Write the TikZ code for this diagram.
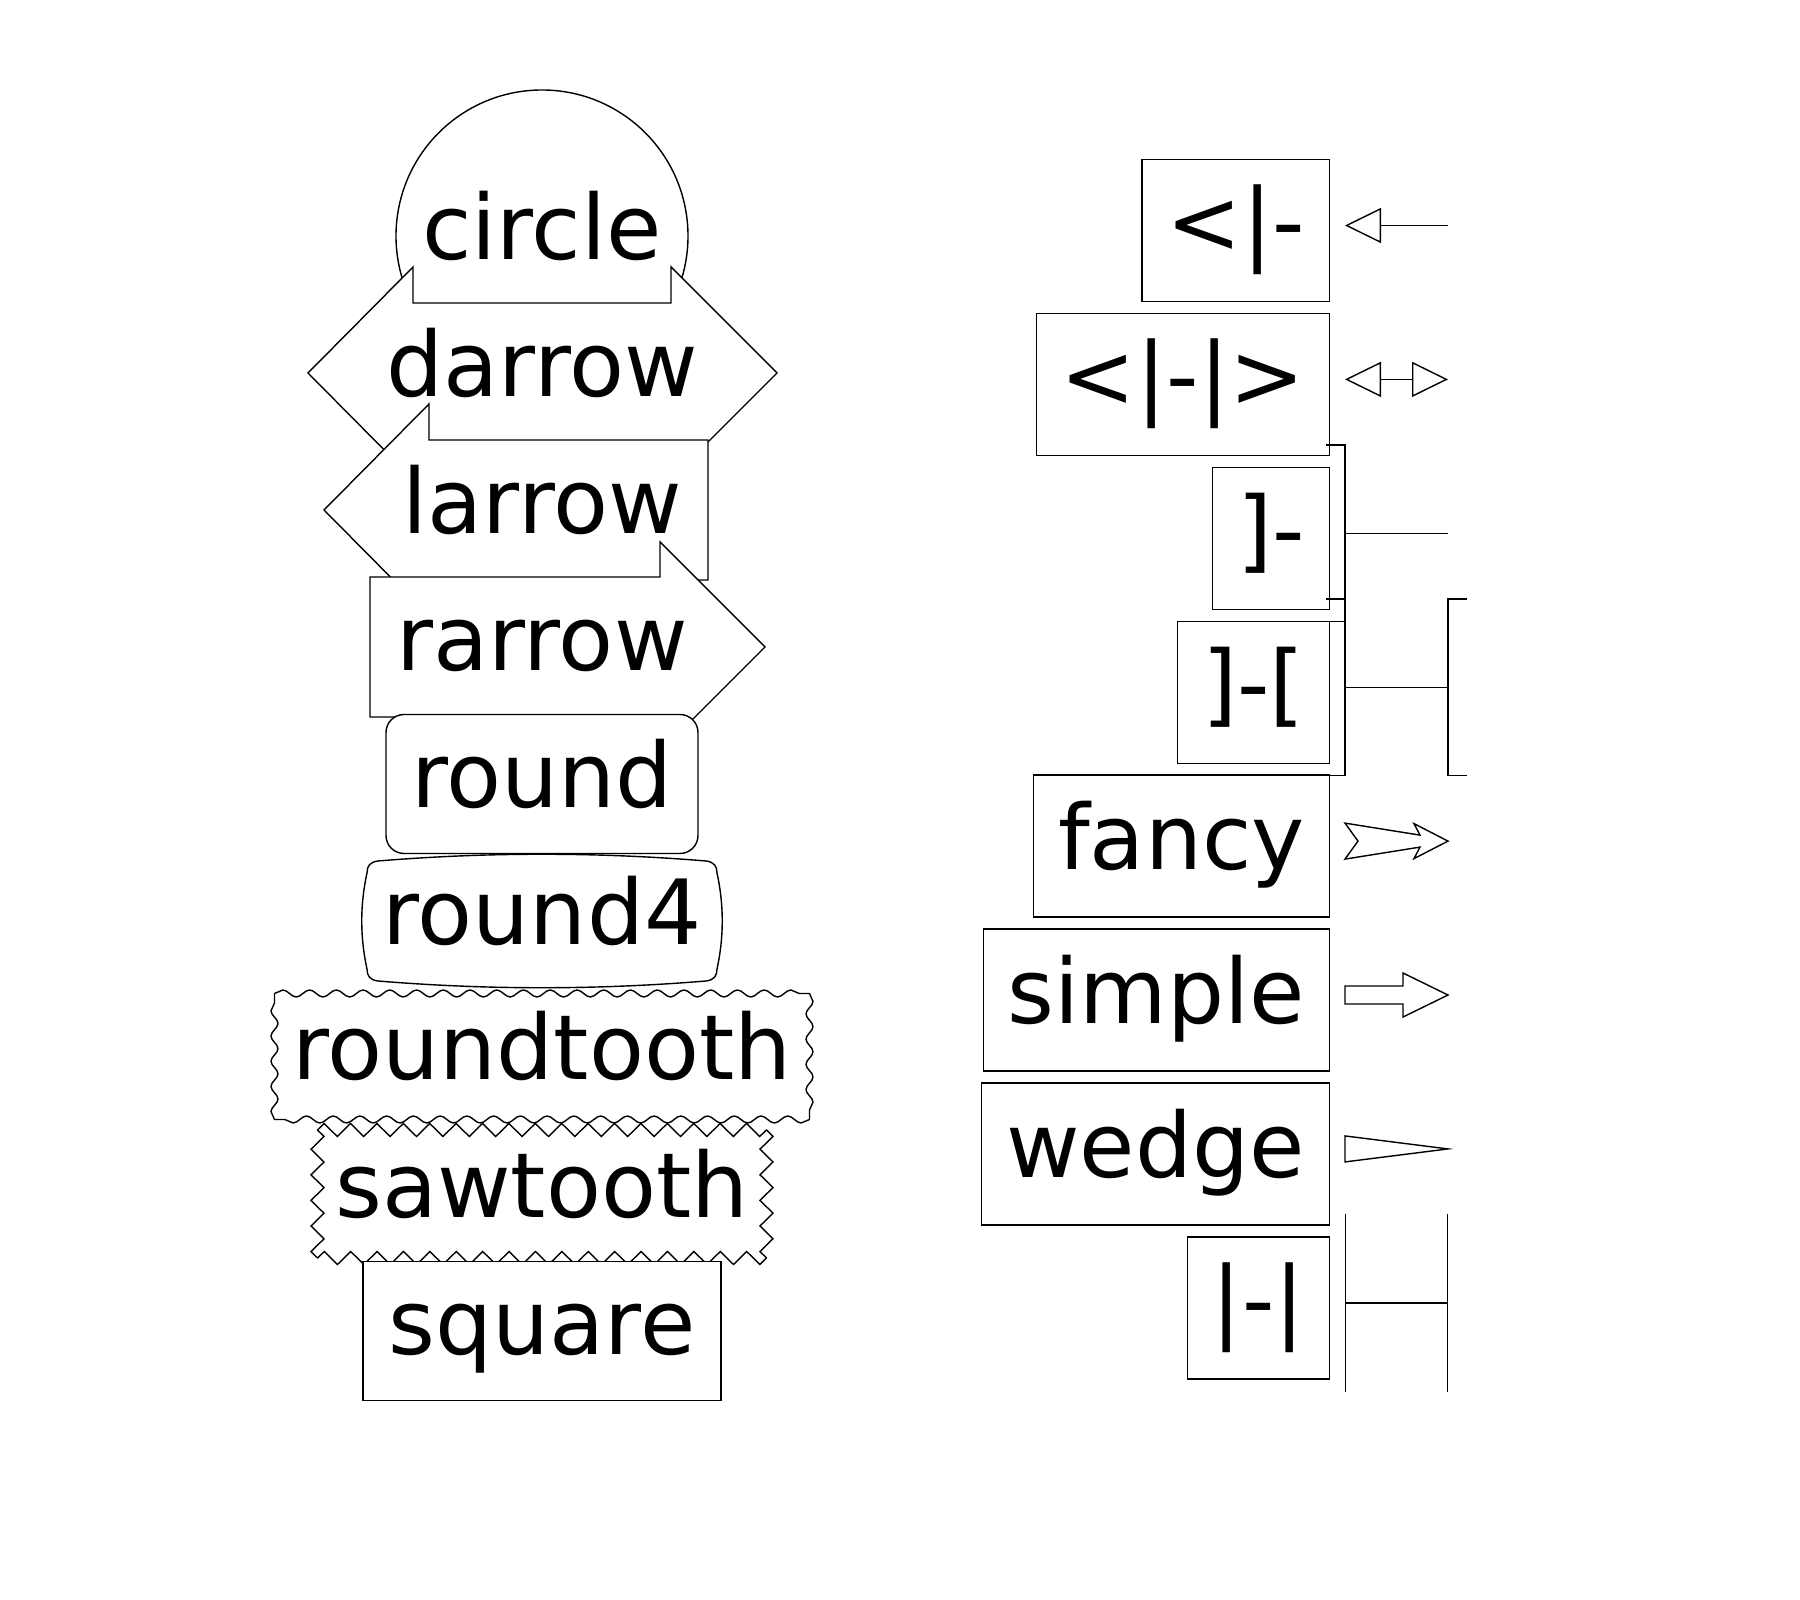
\documentclass[tikz,border=0pt]{standalone}
\usepackage{fontspec}
\setmainfont{DejaVu Sans}
\usetikzlibrary{positioning, arrows.meta, decorations.pathmorphing}

\begin{document}
\begin{tikzpicture}[
    % Define the style for the text
    word/.style={
        font=\fontsize{25.6}{30}\selectfont,
        text height=0.68cm,
        text depth=0.21cm,
        inner sep=0pt
    },
    % Define the style for the outlines on the left
    outline/.style={
        draw=black,
        line width=0.4pt,
        fill=white
    },
    % Wavy and toothed edges
    wavy/.style={decoration={snake, amplitude=0.035cm, segment length=#1}},
    teeth/.style={decoration={zigzag, amplitude=0.065cm, segment length=#1}},
    % Define the style for the boxes on the right
    tipbox/.style={
        rectangle,
        draw=black,
        line width=0.4pt,
        fill=white,
        word,
        inner xsep=0.245cm,
        minimum height=1.42cm
    },
    % Define style for the sample lines
    tipline/.style={
        line width=0.4pt
    }
]

\useasboundingbox (0,0) rectangle (18,-16);

% 1. circle
\node (circ) [outline, circle, word, minimum size=2.92cm] at (5.42,-2.36) {circle};

% 2. darrow
\draw [outline, shift={(5.42,-3.73)}] (-2.34,0) -- (-1.29,1.06) -- (-1.29,0.70) -- (1.29,0.70) -- (1.29,1.06) -- (2.35,0) -- (1.29,-1.06) -- (1.29,-0.70) -- (-1.29,-0.70) -- (-1.29,-1.06) -- cycle;
\node (darr) [word] at (5.42,-3.73) {darrow};

% 3. larrow
\draw [outline, shift={(5.42,-5.10)}] (-2.18,0) -- (-1.13,1.06) -- (-1.13,0.70) -- (1.66,0.70) -- (1.66,-0.70) -- (-1.13,-0.70) -- (-1.13,-1.06) -- cycle;
\node (larr) [word] at (5.42,-5.10) {larrow};

% 4. rarrow
\draw [outline, shift={(5.42,-6.47)}] (-1.72,0.70) -- (1.18,0.70) -- (1.18,1.05) -- (2.23,0) -- (1.18,-1.05) -- (1.18,-0.70) -- (-1.72,-0.70) -- cycle;
\node (rarr) [word] at (5.42,-6.47) {rarrow};

% 5. round
\node (rnd) [outline, word, rounded corners=0.18cm, minimum width=3.12cm, minimum height=1.39cm] at (5.42,-7.84) {round};

% 6. round4
\draw [outline, shift={(5.42,-9.21)}] (-1.64,0.60) .. controls (-0.55,0.69) and (0.55,0.69) .. (1.64,0.60)
    .. controls (1.72,0.59) and (1.75,0.55) .. (1.75,0.48)
    .. controls (1.82,0.16) and (1.82,-0.16) .. (1.75,-0.48)
    .. controls (1.75,-0.55) and (1.72,-0.59) .. (1.64,-0.60)
    .. controls (0.55,-0.69) and (-0.55,-0.69) .. (-1.64,-0.60)
    .. controls (-1.72,-0.59) and (-1.75,-0.55) .. (-1.75,-0.48)
    .. controls (-1.82,-0.16) and (-1.82,0.16) .. (-1.75,0.48)
    .. controls (-1.75,0.55) and (-1.72,0.59) .. (-1.64,0.60) -- cycle;
\node (rnd4) [word] at (5.42,-9.21) {round4};

% 7. roundtooth
\fill [white] (2.745,-9.935) rectangle (8.095,-11.195);
\draw [line width=0.4pt] (2.745,-9.935)
    decorate [wavy=0.2674cm] {-- (8.095,-9.935)}
    decorate [wavy=0.2519cm] {-- (8.095,-11.195)}
    decorate [wavy=0.2674cm] {-- (2.745,-11.195)}
    decorate [wavy=0.2519cm] {-- (2.745,-9.935)};
\node (rtooth) [word] at (5.42,-10.565) {roundtooth};

% 8. sawtooth
\fill [white] (3.175,-11.30) rectangle (7.665,-12.58);
\draw [line width=0.4pt] (3.175,-11.30)
    decorate [teeth=0.2640cm] {-- (7.665,-11.30)}
    decorate [teeth=0.2559cm] {-- (7.665,-12.58)}
    decorate [teeth=0.2640cm] {-- (3.175,-12.58)}
    decorate [teeth=0.2559cm] {-- (3.175,-11.30)};
\node (stooth) [word] at (5.42,-11.94) {sawtooth};

% 9. square
\node (sq) [outline, word, minimum width=3.58cm, minimum height=1.39cm] at (5.42,-13.31) {square};

% Right column: one box per arrow tip
\node (ltri) [tipbox, anchor=east] at (13.30,-2.305) {<|-};
\node (dtri) [tipbox, below=0.105cm of ltri.south east, anchor=north east] {<|-|>};
\node (lbrk) [tipbox, below=0.105cm of dtri.south east, anchor=north east] {]-};
\node (dbrk) [tipbox, below=0.105cm of lbrk.south east, anchor=north east] {]-[};
\node (fancy) [tipbox, below=0.105cm of dbrk.south east, anchor=north east] {fancy};
\node (simple) [tipbox, below=0.105cm of fancy.south east, anchor=north east] {simple};
\node (wedge) [tipbox, below=0.105cm of simple.south east, anchor=north east] {wedge};
\node (dbar) [tipbox, below=0.105cm of wedge.south east, anchor=north east] {|-|};

% Start and end of each sample line
\foreach \b in {ltri, dtri, lbrk, dbrk, fancy, simple, wedge, dbar} {
    \coordinate [right=0.15cm of \b, yshift=0.05cm] (\b-s);
    \coordinate [right=1.18cm of \b, yshift=0.05cm] (\b-e);
}

% Draw the sample lines
\draw [tipline, {Triangle[open, length=0.36cm, width=0.35cm]}-] (ltri-s) -- (ltri-e);
\draw [tipline, {Triangle[open, length=0.36cm, width=0.35cm]}-{Triangle[open, length=0.36cm, width=0.35cm]}] (dtri-s) -- (dtri-e);
\draw [tipline, shorten <=-0.19cm, {Bracket[reversed, width=1.78cm, length=0.19cm]}-] (lbrk-s) -- (lbrk-e);
\draw [tipline, shorten <=-0.19cm, shorten >=-0.19cm, {Bracket[reversed, width=1.78cm, length=0.19cm]}-{Bracket[reversed, width=1.78cm, length=0.19cm]}] (dbrk-s) -- (dbrk-e);
\draw [outline, shift={(fancy-s)}] (0,0.18) -- (0.13,0) -- (0,-0.18) -- (0.75,-0.06) -- (0.69,-0.175) -- (1.03,0) -- (0.69,0.175) -- (0.75,0.06) -- cycle;
\draw [outline, shift={(simple-s)}] (0,0.09) -- (0.58,0.09) -- (0.58,0.22) -- (1.03,0) -- (0.58,-0.22) -- (0.58,-0.09) -- (0,-0.09) -- cycle;
\draw [outline, shift={(wedge-s)}] (0,0.13) -- (1.03,0) -- (0,-0.13) -- cycle;
\draw [tipline, {Bar[width=1.78cm]}-{Bar[width=1.78cm]}] (dbar-s) -- (dbar-e);

\end{tikzpicture}
\end{document}
